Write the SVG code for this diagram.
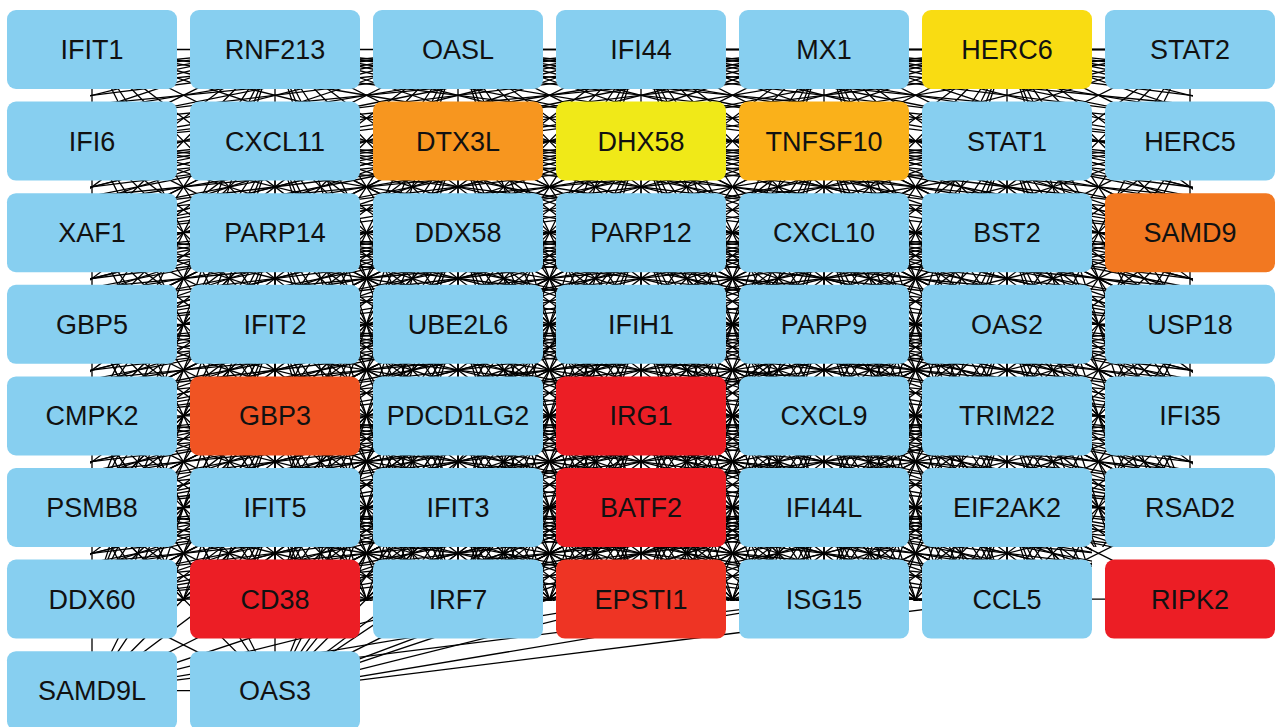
<svg xmlns="http://www.w3.org/2000/svg" xmlns:xlink="http://www.w3.org/1999/xlink" width="1277" height="727" viewBox="0 0 1277 727">
<style>
.n rect{stroke:none}
.b{fill:#87CFF0}
.herc6{fill:#F9DC12}
.dtx{fill:#F7961F}
.dhx{fill:#F0E918}
.tnf{fill:#FAB11A}
.samd9{fill:#F27821}
.gbp3{fill:#F05423}
.red{fill:#EC1E25}
.eps{fill:#EE3424}
text{font-family:"Liberation Sans",Arial,sans-serif;font-size:27px;fill:#111;text-anchor:middle}
</style>
<defs>
<clipPath id="gridclip"><polygon points="90,48 1193,48 1193,547 1092,547 1092,601 90,601"/></clipPath>
<path id="sI" d="M0 0L183 0M0 0L366 0M0 0L549 0M0 0L0 91.6M0 0L183 91.6M0 0L-183 91.6M0 0L366 91.6M0 0L-366 91.6M0 0L549 91.6M0 0L-549 91.6M0 0L732 91.6M0 0L-732 91.6M0 0L915 91.6M0 0L-915 91.6M0 0L0 183.2M0 0L183 183.2M0 0L-183 183.2M0 0L366 183.2M0 0L-366 183.2M0 0L549 183.2M0 0L-549 183.2M0 0L732 183.2M0 0L-732 183.2M0 0L915 183.2M0 0L-915 183.2M0 0L0 274.8M0 0L183 274.8M0 0L-183 274.8M0 0L366 274.8M0 0L-366 274.8M0 0L549 274.8M0 0L-549 274.8M0 0L183 366.4M0 0L-183 366.4M0 0L366 366.4M0 0L-366 366.4M0 0L183 458M0 0L-183 458M0 0L183 549.6M0 0L-183 549.6"/>
<path id="sL" d="M0 0L0 91.6M0 0L183 0M0 0L183 91.6M0 0L366 91.6M0 0L183 183.2M0 0L549 91.6M0 0L183 274.8M0 0L366 183.2M0 0L549 183.2M0 0L366 274.8M0 0L183 366.4M0 0L732 91.6"/>
<path id="sR" d="M0 0L0 91.6M0 0L-183 91.6M0 0L-366 91.6M0 0L-183 183.2M0 0L-549 91.6M0 0L-366 183.2M0 0L-183 274.8M0 0L-549 183.2M0 0L-366 274.8M0 0L-732 91.6M0 0L-183 366.4"/>
<path id="sR2" d="M0 0L-366 91.6"/>
</defs>
<rect width="1277" height="727" fill="#fff"/>
<g id="connectors" fill="none" stroke="#000" stroke-width="1.3">
<g clip-path="url(#gridclip)">
<use xlink:href="#sL" x="92" y="49.5"/><use xlink:href="#sL" x="92" y="141.1"/><use xlink:href="#sL" x="92" y="232.7"/><use xlink:href="#sL" x="92" y="324.3"/><use xlink:href="#sL" x="92" y="415.9"/><use xlink:href="#sL" x="92" y="507.5"/><use xlink:href="#sL" x="92" y="599.1"/>
<use xlink:href="#sR" x="1190" y="49.5"/><use xlink:href="#sR" x="1190" y="141.1"/><use xlink:href="#sR" x="1190" y="232.7"/><use xlink:href="#sR" x="1190" y="324.3"/><use xlink:href="#sR" x="1190" y="415.9"/><use xlink:href="#sR2" x="1190" y="507.5"/>
<use xlink:href="#sI" x="275" y="49.5"/><use xlink:href="#sI" x="458" y="49.5"/><use xlink:href="#sI" x="641" y="49.5"/><use xlink:href="#sI" x="824" y="49.5"/><use xlink:href="#sI" x="1007" y="49.5"/>
<use xlink:href="#sI" x="275" y="141.1"/><use xlink:href="#sI" x="458" y="141.1"/><use xlink:href="#sI" x="641" y="141.1"/><use xlink:href="#sI" x="824" y="141.1"/><use xlink:href="#sI" x="1007" y="141.1"/>
<use xlink:href="#sI" x="275" y="232.7"/><use xlink:href="#sI" x="458" y="232.7"/><use xlink:href="#sI" x="641" y="232.7"/><use xlink:href="#sI" x="824" y="232.7"/><use xlink:href="#sI" x="1007" y="232.7"/>
<use xlink:href="#sI" x="275" y="324.3"/><use xlink:href="#sI" x="458" y="324.3"/><use xlink:href="#sI" x="641" y="324.3"/><use xlink:href="#sI" x="824" y="324.3"/><use xlink:href="#sI" x="1007" y="324.3"/>
<use xlink:href="#sI" x="275" y="415.9"/><use xlink:href="#sI" x="458" y="415.9"/><use xlink:href="#sI" x="641" y="415.9"/><use xlink:href="#sI" x="824" y="415.9"/><use xlink:href="#sI" x="1007" y="415.9"/>
<use xlink:href="#sI" x="275" y="507.5"/><use xlink:href="#sI" x="458" y="507.5"/><use xlink:href="#sI" x="641" y="507.5"/><use xlink:href="#sI" x="824" y="507.5"/><use xlink:href="#sI" x="1007" y="507.5"/>
<use xlink:href="#sI" x="275" y="599.1"/><use xlink:href="#sI" x="458" y="599.1"/><use xlink:href="#sI" x="641" y="599.1"/><use xlink:href="#sI" x="824" y="599.1"/><use xlink:href="#sI" x="1007" y="599.1"/>
</g>
<path d="M1007 507.5L1190 599.1M1007 599.1L1190 507.5M1007 599.1L1190 599.1"/>
<path d="M275 690.7L92 599.1M275 690.7L275 599.1M275 690.7L458 599.1M275 690.7L641 599.1M275 690.7L824 599.1M275 690.7L1007 599.1M275 690.7L92 507.5M275 690.7L275 507.5M275 690.7L458 507.5M275 690.7L641 507.5M275 690.7L824 507.5M275 690.7L1007 507.5M275 690.7L92 415.9M275 690.7L275 415.9M275 690.7L458 415.9M275 690.7L641 415.9M275 690.7L824 415.9M275 690.7L1007 415.9M275 690.7L275 324.3M275 690.7L458 324.3M275 690.7L641 324.3M275 690.7L824 324.3M275 690.7L458 232.7M275 690.7L641 232.7M275 690.7L92 324.3M275 690.7L1007 324.3M275 690.7L92 690.7"/>
<path d="M92 690.7L92 599.1M92 690.7L275 599.1M92 690.7L458 599.1M92 690.7L275 507.5M92 690.7L458 507.5M92 690.7L641 599.1M92 690.7L824 599.1M92 690.7L641 507.5M92 690.7L275 415.9M92 690.7L458 415.9M92 690.7L641 415.9M92 690.7L275 324.3M92 690.7L824 507.5"/>
</g>
<g id="nodes">
<g id="n-IFIT1" class="n"><rect class="b" x="7" y="10" width="170" height="79" rx="9"/><text x="92" y="59">IFIT1</text></g>
<g id="n-RNF213" class="n"><rect class="b" x="190" y="10" width="170" height="79" rx="9"/><text x="275" y="59">RNF213</text></g>
<g id="n-OASL" class="n"><rect class="b" x="373" y="10" width="170" height="79" rx="9"/><text x="458" y="59">OASL</text></g>
<g id="n-IFI44" class="n"><rect class="b" x="556" y="10" width="170" height="79" rx="9"/><text x="641" y="59">IFI44</text></g>
<g id="n-MX1" class="n"><rect class="b" x="739" y="10" width="170" height="79" rx="9"/><text x="824" y="59">MX1</text></g>
<g id="n-HERC6" class="n"><rect class="herc6" x="922" y="10" width="170" height="79" rx="9"/><text x="1007" y="59">HERC6</text></g>
<g id="n-STAT2" class="n"><rect class="b" x="1105" y="10" width="170" height="79" rx="9"/><text x="1190" y="59">STAT2</text></g>

<g id="n-IFI6" class="n"><rect class="b" x="7" y="101.6" width="170" height="79" rx="9"/><text x="92" y="150.6">IFI6</text></g>
<g id="n-CXCL11" class="n"><rect class="b" x="190" y="101.6" width="170" height="79" rx="9"/><text x="275" y="150.6">CXCL11</text></g>
<g id="n-DTX3L" class="n"><rect class="dtx" x="373" y="101.6" width="170" height="79" rx="9"/><text x="458" y="150.6">DTX3L</text></g>
<g id="n-DHX58" class="n"><rect class="dhx" x="556" y="101.6" width="170" height="79" rx="9"/><text x="641" y="150.6">DHX58</text></g>
<g id="n-TNFSF10" class="n"><rect class="tnf" x="739" y="101.6" width="170" height="79" rx="9"/><text x="824" y="150.6">TNFSF10</text></g>
<g id="n-STAT1" class="n"><rect class="b" x="922" y="101.6" width="170" height="79" rx="9"/><text x="1007" y="150.6">STAT1</text></g>
<g id="n-HERC5" class="n"><rect class="b" x="1105" y="101.6" width="170" height="79" rx="9"/><text x="1190" y="150.6">HERC5</text></g>

<g id="n-XAF1" class="n"><rect class="b" x="7" y="193.2" width="170" height="79" rx="9"/><text x="92" y="242.2">XAF1</text></g>
<g id="n-PARP14" class="n"><rect class="b" x="190" y="193.2" width="170" height="79" rx="9"/><text x="275" y="242.2">PARP14</text></g>
<g id="n-DDX58" class="n"><rect class="b" x="373" y="193.2" width="170" height="79" rx="9"/><text x="458" y="242.2">DDX58</text></g>
<g id="n-PARP12" class="n"><rect class="b" x="556" y="193.2" width="170" height="79" rx="9"/><text x="641" y="242.2">PARP12</text></g>
<g id="n-CXCL10" class="n"><rect class="b" x="739" y="193.2" width="170" height="79" rx="9"/><text x="824" y="242.2">CXCL10</text></g>
<g id="n-BST2" class="n"><rect class="b" x="922" y="193.2" width="170" height="79" rx="9"/><text x="1007" y="242.2">BST2</text></g>
<g id="n-SAMD9" class="n"><rect class="samd9" x="1105" y="193.2" width="170" height="79" rx="9"/><text x="1190" y="242.2">SAMD9</text></g>

<g id="n-GBP5" class="n"><rect class="b" x="7" y="284.8" width="170" height="79" rx="9"/><text x="92" y="333.8">GBP5</text></g>
<g id="n-IFIT2" class="n"><rect class="b" x="190" y="284.8" width="170" height="79" rx="9"/><text x="275" y="333.8">IFIT2</text></g>
<g id="n-UBE2L6" class="n"><rect class="b" x="373" y="284.8" width="170" height="79" rx="9"/><text x="458" y="333.8">UBE2L6</text></g>
<g id="n-IFIH1" class="n"><rect class="b" x="556" y="284.8" width="170" height="79" rx="9"/><text x="641" y="333.8">IFIH1</text></g>
<g id="n-PARP9" class="n"><rect class="b" x="739" y="284.8" width="170" height="79" rx="9"/><text x="824" y="333.8">PARP9</text></g>
<g id="n-OAS2" class="n"><rect class="b" x="922" y="284.8" width="170" height="79" rx="9"/><text x="1007" y="333.8">OAS2</text></g>
<g id="n-USP18" class="n"><rect class="b" x="1105" y="284.8" width="170" height="79" rx="9"/><text x="1190" y="333.8">USP18</text></g>

<g id="n-CMPK2" class="n"><rect class="b" x="7" y="376.4" width="170" height="79" rx="9"/><text x="92" y="425.4">CMPK2</text></g>
<g id="n-GBP3" class="n"><rect class="gbp3" x="190" y="376.4" width="170" height="79" rx="9"/><text x="275" y="425.4">GBP3</text></g>
<g id="n-PDCD1LG2" class="n"><rect class="b" x="373" y="376.4" width="170" height="79" rx="9"/><text x="458" y="425.4">PDCD1LG2</text></g>
<g id="n-IRG1" class="n"><rect class="red" x="556" y="376.4" width="170" height="79" rx="9"/><text x="641" y="425.4">IRG1</text></g>
<g id="n-CXCL9" class="n"><rect class="b" x="739" y="376.4" width="170" height="79" rx="9"/><text x="824" y="425.4">CXCL9</text></g>
<g id="n-TRIM22" class="n"><rect class="b" x="922" y="376.4" width="170" height="79" rx="9"/><text x="1007" y="425.4">TRIM22</text></g>
<g id="n-IFI35" class="n"><rect class="b" x="1105" y="376.4" width="170" height="79" rx="9"/><text x="1190" y="425.4">IFI35</text></g>

<g id="n-PSMB8" class="n"><rect class="b" x="7" y="468" width="170" height="79" rx="9"/><text x="92" y="517">PSMB8</text></g>
<g id="n-IFIT5" class="n"><rect class="b" x="190" y="468" width="170" height="79" rx="9"/><text x="275" y="517">IFIT5</text></g>
<g id="n-IFIT3" class="n"><rect class="b" x="373" y="468" width="170" height="79" rx="9"/><text x="458" y="517">IFIT3</text></g>
<g id="n-BATF2" class="n"><rect class="red" x="556" y="468" width="170" height="79" rx="9"/><text x="641" y="517">BATF2</text></g>
<g id="n-IFI44L" class="n"><rect class="b" x="739" y="468" width="170" height="79" rx="9"/><text x="824" y="517">IFI44L</text></g>
<g id="n-EIF2AK2" class="n"><rect class="b" x="922" y="468" width="170" height="79" rx="9"/><text x="1007" y="517">EIF2AK2</text></g>
<g id="n-RSAD2" class="n"><rect class="b" x="1105" y="468" width="170" height="79" rx="9"/><text x="1190" y="517">RSAD2</text></g>

<g id="n-DDX60" class="n"><rect class="b" x="7" y="559.6" width="170" height="79" rx="9"/><text x="92" y="608.6">DDX60</text></g>
<g id="n-CD38" class="n"><rect class="red" x="190" y="559.6" width="170" height="79" rx="9"/><text x="275" y="608.6">CD38</text></g>
<g id="n-IRF7" class="n"><rect class="b" x="373" y="559.6" width="170" height="79" rx="9"/><text x="458" y="608.6">IRF7</text></g>
<g id="n-EPSTI1" class="n"><rect class="eps" x="556" y="559.6" width="170" height="79" rx="9"/><text x="641" y="608.6">EPSTI1</text></g>
<g id="n-ISG15" class="n"><rect class="b" x="739" y="559.6" width="170" height="79" rx="9"/><text x="824" y="608.6">ISG15</text></g>
<g id="n-CCL5" class="n"><rect class="b" x="922" y="559.6" width="170" height="79" rx="9"/><text x="1007" y="608.6">CCL5</text></g>
<g id="n-RIPK2" class="n"><rect class="red" x="1105" y="559.6" width="170" height="79" rx="9"/><text x="1190" y="608.6">RIPK2</text></g>

<g id="n-SAMD9L" class="n"><rect class="b" x="7" y="651.2" width="170" height="79" rx="9"/><text x="92" y="700.2">SAMD9L</text></g>
<g id="n-OAS3" class="n"><rect class="b" x="190" y="651.2" width="170" height="79" rx="9"/><text x="275" y="700.2">OAS3</text></g>
</g>
</svg>
